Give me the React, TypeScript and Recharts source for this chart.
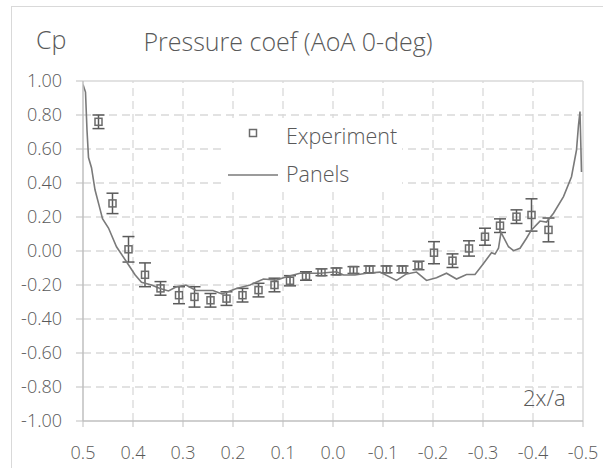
import React from 'react';
import {
  ComposedChart,
  Line,
  Scatter,
  XAxis,
  YAxis,
  ErrorBar,
  ReferenceLine,
} from 'recharts';

const xTicks = [0.5, 0.4, 0.3, 0.2, 0.1, 0, -0.1, -0.2, -0.3, -0.4, -0.5];
const yTicks = [-1, -0.8, -0.6, -0.4, -0.2, 0, 0.2, 0.4, 0.6, 0.8, 1];

const expX = [0.469, 0.441, 0.409, 0.376, 0.345, 0.308, 0.277, 0.245, 0.213, 0.181, 0.149, 0.117, 0.086, 0.054, 0.023, -0.007, -0.041, -0.073, -0.107, -0.139, -0.171, -0.202, -0.239, -0.272, -0.304, -0.334, -0.367, -0.397, -0.431];
const expCp = [0.76, 0.28, 0.01, -0.14, -0.22, -0.26, -0.27, -0.29, -0.28, -0.26, -0.23, -0.2, -0.175, -0.147, -0.125, -0.12, -0.112, -0.108, -0.108, -0.108, -0.085, -0.01, -0.057, 0.015, 0.084, 0.149, 0.202, 0.212, 0.124];
const expErr = [0.04, 0.06, 0.075, 0.07, 0.04, 0.05, 0.06, 0.04, 0.04, 0.04, 0.04, 0.04, 0.03, 0.025, 0.02, 0.02, 0.02, 0.02, 0.02, 0.02, 0.025, 0.065, 0.04, 0.045, 0.05, 0.04, 0.04, 0.095, 0.07];

const panelX = [0.5, 0.495, 0.492, 0.489, 0.483, 0.476, 0.468, 0.461, 0.449, 0.433, 0.413, 0.396, 0.383, 0.363, 0.346, 0.329, 0.313, 0.294, 0.274, 0.24, 0.222, 0.193, 0.166, 0.139, 0.113, 0.093, 0.066, 0.026, -0.007, -0.021, -0.044, -0.067, -0.094, -0.127, -0.147, -0.167, -0.187, -0.207, -0.227, -0.247, -0.267, -0.284, -0.301, -0.317, -0.324, -0.331, -0.336, -0.342, -0.351, -0.361, -0.374, -0.387, -0.397, -0.414, -0.427, -0.441, -0.461, -0.477, -0.487, -0.491, -0.494, -0.497];
const panelCp = [0.98, 0.935, 0.71, 0.55, 0.49, 0.36, 0.27, 0.19, 0.135, 0.025, -0.063, -0.14, -0.184, -0.2, -0.22, -0.235, -0.21, -0.2, -0.232, -0.232, -0.253, -0.22, -0.2, -0.165, -0.171, -0.151, -0.131, -0.131, -0.122, -0.141, -0.141, -0.131, -0.124, -0.173, -0.135, -0.124, -0.173, -0.157, -0.131, -0.165, -0.138, -0.138, -0.073, -0.01, -0.018, 0.016, 0.11, 0.076, 0.025, 0.002, 0.016, 0.075, 0.124, 0.176, 0.17, 0.222, 0.32, 0.437, 0.594, 0.74, 0.82, 0.465];

const expData = expX.map((x, i) => ({ x, cp: expCp[i], err: expErr[i] }));
const panelData = panelX.map((x, i) => ({ x, cp: panelCp[i] }));

const FONT = '"Open Sans", "Segoe UI", sans-serif';
const TXT = '#595959';
const GRID = '#d9d9d9';
const AXIS = '#bfbfbf';

const SquareShape = (props: any) => {
  const { cx, cy } = props;
  if (cx == null || cy == null) return null;
  return (
    <rect x={cx - 3.5} y={cy - 3.5} width={7} height={7} fill="none" stroke="#6b6b6b" strokeWidth={1.5} />
  );
};

export default function App() {
  return (
    <div style={{ position: 'absolute', left: 0, top: 0, width: 603, height: 468, background: '#fff', overflow: 'hidden', fontFamily: FONT }}>
      <div style={{ position: 'absolute', left: 11, top: 6, width: 620, height: 500, border: '1px solid #d9d9d9', boxSizing: 'border-box' }} />
      <div style={{ position: 'absolute', left: 0, top: 0 }}>
        <ComposedChart width={603} height={468} margin={{ top: 81, right: 20, bottom: 17, left: 0 }}>
          <XAxis
            type="number"
            dataKey="x"
            domain={[-0.5, 0.5]}
            reversed
            ticks={xTicks}
            interval={0}
            allowDataOverflow
            tickFormatter={(v: number) => v.toFixed(1)}
            height={30}
            tickSize={6}
            tickMargin={19}
            stroke={AXIS}
            axisLine={{ stroke: AXIS, strokeWidth: 1.5 }}
            tickLine={{ stroke: AXIS }}
            tick={{ fill: TXT, fontSize: 18, fontFamily: FONT, fontWeight: 300 }}
          />
          <YAxis
            type="number"
            domain={[-1, 1]}
            ticks={yTicks}
            interval={0}
            allowDataOverflow
            tickFormatter={(v: number) => v.toFixed(2)}
            width={83}
            tickSize={7}
            tickMargin={14}
            stroke={AXIS}
            axisLine={{ stroke: AXIS, strokeWidth: 1.5 }}
            tickLine={{ stroke: AXIS }}
            tick={{ fill: TXT, fontSize: 18, fontFamily: FONT, fontWeight: 300 }}
          />
          {yTicks.filter((t) => t > -1 && t < 1).map((t) => (
            <ReferenceLine key={'gy' + t} y={t} stroke={GRID} strokeWidth={1.3} strokeDasharray="8 5" />
          ))}
          {xTicks.filter((t) => t < 0.5 && t > -0.5).map((t) => (
            <ReferenceLine key={'gx' + t} x={t} stroke={GRID} strokeWidth={1.3} strokeDasharray="8 5" />
          ))}
          <ReferenceLine y={1} stroke={GRID} strokeWidth={1.5} />
          <ReferenceLine x={-0.5} stroke={GRID} strokeWidth={1.5} />
          <Scatter data={expData} dataKey="cp" shape={SquareShape} isAnimationActive={false}>
            <ErrorBar dataKey="err" direction="y" width={6} stroke="#5a5a5a" strokeWidth={1.5} />
          </Scatter>
          <Line data={panelData} dataKey="cp" type="linear" dot={false} stroke="#7a7a7a" strokeWidth={1.6} isAnimationActive={false} />
        </ComposedChart>
      </div>
      <svg width={603} height={468} style={{ position: 'absolute', left: 0, top: 0, pointerEvents: 'none' }}>
        <g fontFamily={FONT} fontWeight={300} fill={TXT}>
          <text x={36} y={49} fontSize={25}>Cp</text>
          <text x={288} y={50.5} fontSize={25} textAnchor="middle">Pressure coef (AoA 0-deg)</text>
          <rect x={226} y={118} width={176} height={74} fill="#fff" />
          <rect x={249.5} y={129.5} width={7} height={7} fill="none" stroke="#6b6b6b" strokeWidth={1.5} />
          <text x={286} y={143.5} fontSize={21.5}>Experiment</text>
          <line x1={228} y1={175} x2={278} y2={175} stroke="#7a7a7a" strokeWidth={1.6} />
          <text x={286} y={181.5} fontSize={21.5}>Panels</text>
          <text x={523} y={406} fontSize={22}>2x/a</text>
        </g>
      </svg>
    </div>
  );
}
